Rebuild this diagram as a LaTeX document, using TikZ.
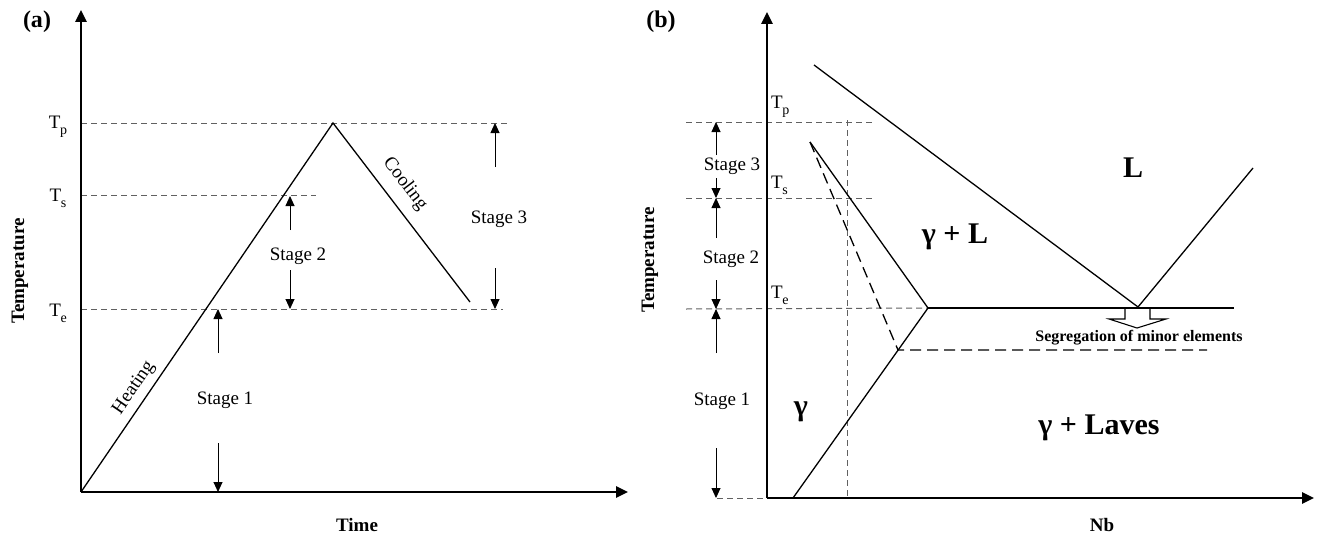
\documentclass[tikz,border=0pt]{standalone}
\usepackage{fontspec}
\setmainfont{Liberation Serif}
\usetikzlibrary{arrows.meta}
\newcommand\Tlab[1]{T\kern-0.02em\raisebox{-0.32em}{\fontsize{14}{14}\selectfont #1}}
\begin{document}
\begin{tikzpicture}[x=1pt,y=-1pt,
  axisline/.style={line width=2.6pt,-{Triangle[length=12pt,width=11pt]}},
  curve/.style={line width=1.3pt,line join=miter},
  guide/.style={draw=black!62,line width=1pt,dash pattern=on 6pt off 4pt},
  thinguide/.style={draw=black!62,line width=0.9pt,dash pattern=on 6pt off 4pt},
  longdash/.style={line width=1.3pt,dash pattern=on 11pt off 6pt},
  stagearrow/.style={line width=0.9pt,-{Triangle[length=10pt,width=9pt]}},
  txt/.style={font=\fontsize{19}{22}\selectfont,inner sep=0pt},
  axlab/.style={font=\fontsize{19}{22}\selectfont\bfseries,inner sep=0pt},
  panel/.style={font=\fontsize{24}{28}\selectfont\bfseries,inner sep=0pt},
  phase/.style={font=\fontsize{30}{34}\selectfont\bfseries,inner sep=0pt},
  small/.style={font=\fontsize{16}{18}\selectfont\bfseries,inner sep=0pt}]
\useasboundingbox (0,0) rectangle (1319,535);

%% ---------------- panel (a) ----------------
\coordinate (aO) at (81,492);
\coordinate (aY) at (81,10);
\coordinate (aX) at (628,492);
\coordinate (aPk) at (333,123);
\coordinate (aCe) at (470,302);
\coordinate (aTpL) at (81,123);  \coordinate (aTpR) at (507,123);
\coordinate (aTsL) at (81,195);  \coordinate (aTsR) at (316,195);
\coordinate (aTeL) at (81,309);  \coordinate (aTeR) at (503,309);

\draw[guide] (aTpL) -- (aTpR);
\draw[guide] (aTsL) -- (aTsR);
\draw[guide] (aTeL) -- (aTeR);
\draw[curve] (aO) -- (aPk) -- (aCe);
\draw[axisline] (aO) -- (aY);
\draw[axisline] (aO) -- (aX);

\node[panel] (pa) at (37,22) {(a)};
\node[txt] (aTp) at (58,127) {\Tlab{p}};
\node[txt] (aTs) at (58,198) {\Tlab{s}};
\node[txt] (aTe) at (58,313) {\Tlab{e}};
\node[axlab,rotate=90] (aTemp) at (20,271) {Temperature};
\node[axlab] (aTime) at (357,525) {Time};
\node[txt,rotate=55.8] (aHeat) at (134,388) {Heating};
\node[txt,rotate=-52.6] (aCool) at (405,184) {Cooling};

\node[txt] (aS1) at (225,400) {Stage 1};
\node[txt] (aS2) at (298,256) {Stage 2};
\node[txt] (aS3) at (499,219) {Stage 3};

\coordinate (a1u) at (218,353); \coordinate (a1ut) at (218,309);
\coordinate (a1d) at (218,443); \coordinate (a1dt) at (218,492);
\coordinate (a2u) at (290,230); \coordinate (a2ut) at (290,196);
\coordinate (a2d) at (290,270); \coordinate (a2dt) at (290,309);
\coordinate (a3u) at (495,167); \coordinate (a3ut) at (495,123);
\coordinate (a3d) at (495,268); \coordinate (a3dt) at (495,309);
\draw[stagearrow] (a1u) -- (a1ut);
\draw[stagearrow] (a1d) -- (a1dt);
\draw[stagearrow] (a2u) -- (a2ut);
\draw[stagearrow] (a2d) -- (a2dt);
\draw[stagearrow] (a3u) -- (a3ut);
\draw[stagearrow] (a3d) -- (a3dt);

%% ---------------- panel (b) ----------------
\coordinate (bO) at (767,498);
\coordinate (bY) at (767,12);
\coordinate (bX) at (1314,498);
\coordinate (bTpL) at (686,122);  \coordinate (bTpR) at (872,122);
\coordinate (bTsL) at (686,198);  \coordinate (bTsR) at (872,198);
\coordinate (bTeL) at (686,309);  \coordinate (bE1) at (928,308);
\coordinate (bBotL) at (717,498);
\coordinate (bVt) at (847,120);   \coordinate (bVb) at (847,498);

\coordinate (bLiqT) at (814,65);
\coordinate (bEut) at (1138,307);
\coordinate (bLiqR) at (1253,168);
\coordinate (bEutR) at (1234,308);
\coordinate (bSolT) at (810,142);
\coordinate (bSolB) at (793,498);
\coordinate (bDash1) at (898,350);
\coordinate (bDash2) at (1207,350);

\draw[guide] (bTpL) -- (bTpR);
\draw[guide] (bTsL) -- (bTsR);
\draw[guide] (bTeL) -- (bE1);
\draw[guide] (bBotL) -- (bO);
\draw[thinguide] (bVt) -- (bVb);

\draw[curve] (bLiqT) -- (bEut) -- (bLiqR);
\draw[curve] (bE1) -- (bEutR);
\draw[curve] (bSolT) -- (bE1) -- (bSolB);
\draw[longdash] (bSolT) -- (bDash1) -- (bDash2);

\draw[axisline] (bO) -- (bY);
\draw[axisline] (bO) -- (bX);

% hollow arrow
\draw[line width=1.1pt,fill=white,line join=miter]
  (1125,309) -- (1125,319) -- (1109,319) -- (1137,328) -- (1166,319)
  -- (1150,319) -- (1150,309);

\node[panel] (pb) at (661,22) {(b)};
\node[txt,anchor=west] (bTp) at (771,107) {\Tlab{p}};
\node[txt,anchor=west] (bTs) at (771,185) {\Tlab{s}};
\node[txt,anchor=west] (bTe) at (771,295) {\Tlab{e}};
\node[axlab,rotate=90] (bTemp) at (650,260) {Temperature};
\node[axlab] (bNb) at (1102,525) {Nb};

\node[txt] (bS1) at (722,401) {Stage 1};
\node[txt] (bS2) at (731,259) {Stage 2};
\node[txt] (bS3) at (732,166) {Stage 3};

\coordinate (b1u) at (716,353); \coordinate (b1ut) at (716,309);
\coordinate (b1d) at (716,448); \coordinate (b1dt) at (716,498);
\coordinate (b2u) at (716,238); \coordinate (b2ut) at (716,198);
\coordinate (b2d) at (716,280); \coordinate (b2dt) at (716,309);
\coordinate (b3u) at (716,155); \coordinate (b3ut) at (716,122);
\coordinate (b3d) at (716,178); \coordinate (b3dt) at (716,198);
\draw[stagearrow] (b1u) -- (b1ut);
\draw[stagearrow] (b1d) -- (b1dt);
\draw[stagearrow] (b2u) -- (b2ut);
\draw[stagearrow] (b2d) -- (b2dt);
\draw[stagearrow] (b3u) -- (b3ut);
\draw[stagearrow] (b3d) -- (b3dt);

\node[phase] (bL) at (1133,168) {L};
\node[phase] (bGL) at (955,237) {γ + L};
\node[phase] (bG) at (801,412) {γ};
\node[phase] (bGLav) at (1099,428) {γ + Laves};
\node[small] (bSeg) at (1139,338) {Segregation of minor elements};
\end{tikzpicture}
\end{document}
